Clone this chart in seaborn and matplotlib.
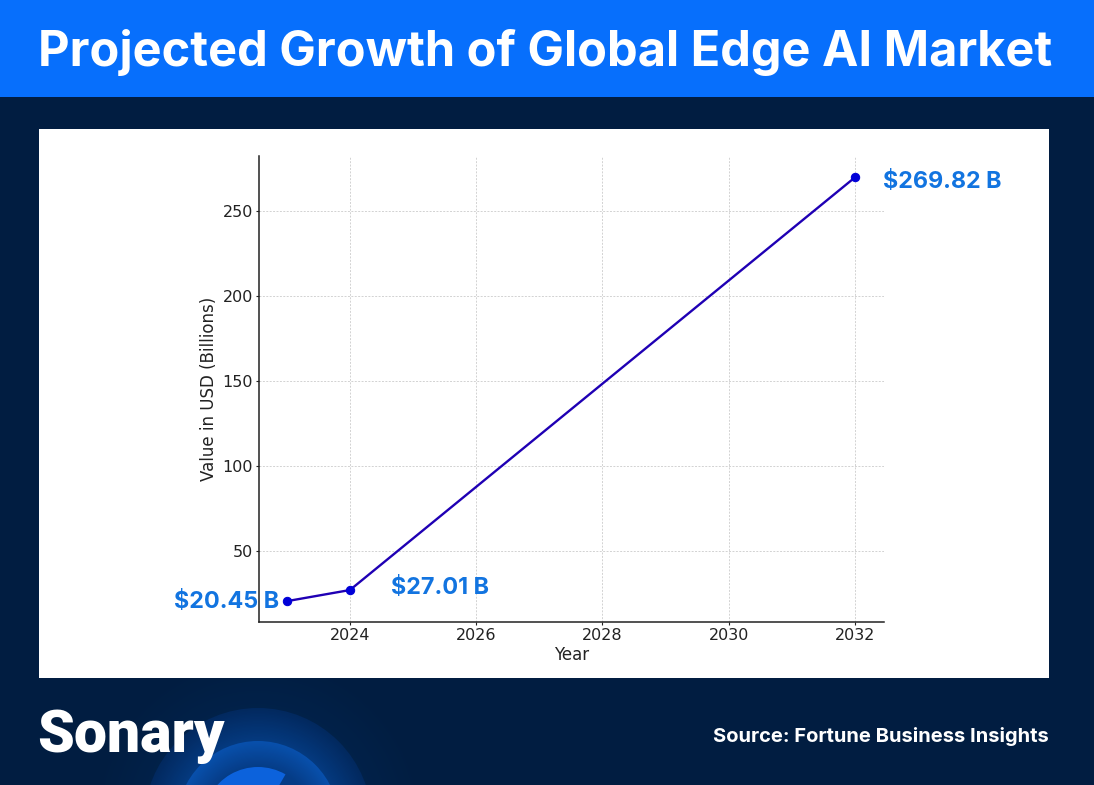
#Projected growth of global edge AI market

import matplotlib
matplotlib.use('Agg')
import matplotlib.pyplot as plt
from matplotlib.patches import Rectangle, Circle, Wedge
from matplotlib.colors import to_rgb
import numpy as np
import pandas as pd
import seaborn as sns

years = [2023, 2024, 2032]
values = [20.45, 27.01, 269.82]
labels = ['$20.45 B', '$27.01 B', '$269.82 B']
x_ticks = [2024, 2026, 2028, 2030, 2032]
y_ticks = [50, 100, 150, 200, 250]

BG = '#011d41'
HEADER = '#076ffc'
LABEL = '#1274e0'

sns.set_theme(style='white')
plt.rcParams['font.family'] = ['DejaVu Sans']

W, H = 1094, 785
fig = plt.figure(figsize=(W / 100, H / 100), dpi=100, facecolor=BG)

# fondo en pixeles
bg = fig.add_axes([0, 0, 1, 1])
bg.set_xlim(0, W)
bg.set_ylim(H, 0)
bg.axis('off')


def ring(r_out, r_in, c_out, c_in, steps=24):
    # anillo con degradado, del borde exterior al interior
    c_out, c_in = np.array(to_rgb(c_out)), np.array(to_rgb(c_in))
    for i in range(steps):
        t = i / (steps - 1)
        r = r_out + (r_in - r_out) * t
        bg.add_patch(Circle((258, 822), r, color=tuple(c_out + (c_in - c_out) * t), lw=0))


ring(165, 114, '#011d41', '#012149')
ring(114, 81, '#02295f', '#043a80')
ring(81, 55, '#0850ac', '#053c86')
bg.add_patch(Wedge((258, 822), 55, 180, 300, color='#0c62dc', lw=0))

bg.add_patch(Rectangle((0, 0), W, 97, color=HEADER, lw=0))
bg.add_patch(Rectangle((39, 129), 1010, 549, color='white', lw=0))

bg.text(545, 52, 'Projected Growth of Global Edge AI Market', color='white',
        fontsize=35.1, fontweight='bold', family='Inter', ha='center', va='center')
bg.text(37, 752, 'Sonary', color='white', fontsize=42.4, fontweight='black',
        family='Roboto', ha='left', va='baseline')
bg.text(1049, 736, 'Source: Fortune Business Insights', color='white', fontsize=14.5,
        fontweight='bold', family='Inter', ha='right', va='center')

# grafico
ax = fig.add_axes([259 / W, 1 - 622 / H, 625 / W, 466 / H])
ax.patch.set_alpha(0)
df = pd.DataFrame({'Year': years, 'Value': values})
sns.lineplot(data=df, x='Year', y='Value', ax=ax, color='#1f00b4', linewidth=1.7,
             marker='o', markersize=6, markerfacecolor='#0000d8',
             markeredgecolor='#0000d8', errorbar=None)

ax.set_xlim(2022.56, 2032.46)
ax.set_ylim(8.2, 282.4)
ax.set_xticks(x_ticks)
ax.set_yticks(y_ticks)
ax.set_xlabel('Year', fontsize=12, color='#222222', labelpad=2)
ax.set_ylabel('Value in USD (Billions)', fontsize=12, color='#222222', labelpad=3)
ax.tick_params(axis='both', length=2.5, width=0.8, labelsize=11.5, labelcolor='#222222',
               color='#222222', bottom=True, left=True, pad=2)
ax.grid(True, linestyle=(0, (2, 1.5)), linewidth=0.7, color='#d2d2d2')
ax.set_axisbelow(True)
sns.despine(ax=ax)
for side in ['left', 'bottom']:
    ax.spines[side].set_color('#222222')
    ax.spines[side].set_linewidth(1.1)

# etiquetas de valores
offsets = [(-8, -1, 'right'), (41, 2, 'left'), (28, -5, 'left')]
for year, value, text, (dx, dy, align) in zip(years, values, labels, offsets):
    ax.annotate(text, (year, value), xytext=(dx, dy), textcoords='offset pixels',
                color=LABEL, fontsize=16.8, fontweight='bold', family='Inter',
                ha=align, va='center', annotation_clip=False)

fig.savefig('out.png', dpi=100, facecolor=BG)
